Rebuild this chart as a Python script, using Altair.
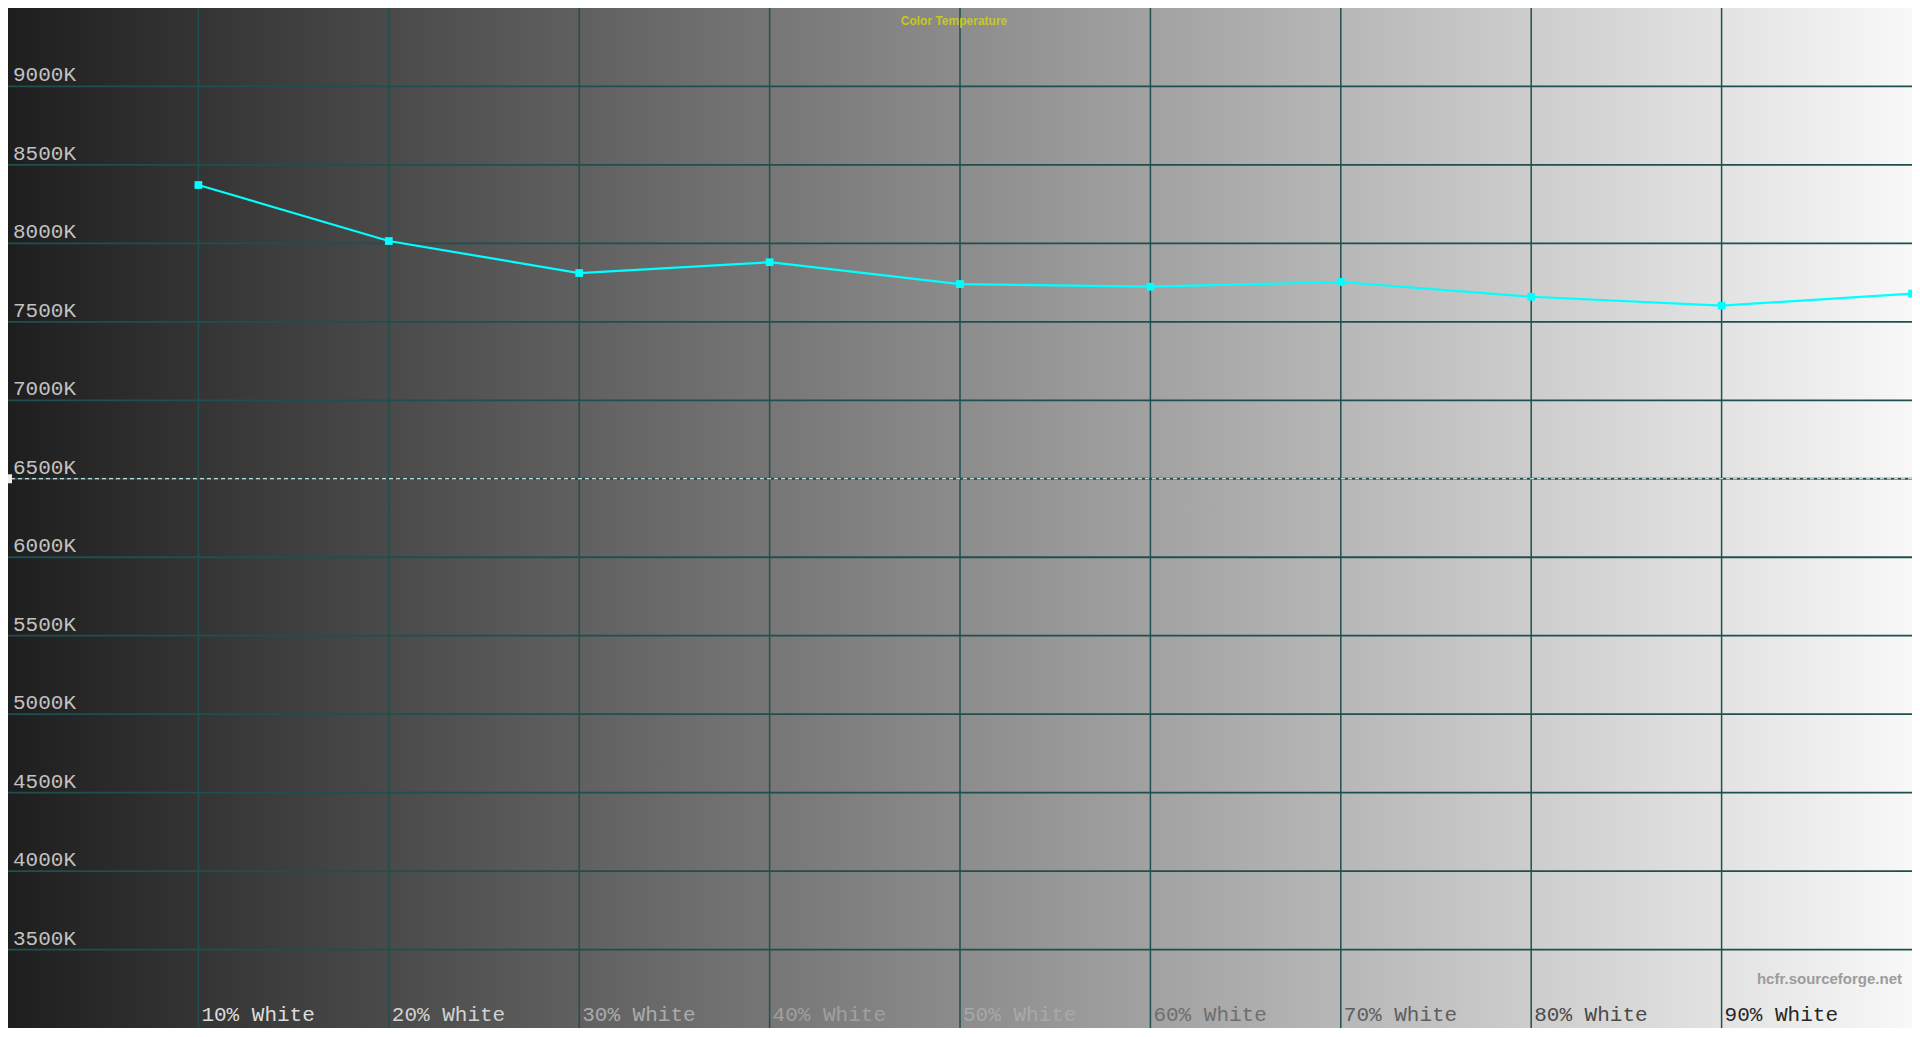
import altair as alt
import pandas as pd

# ---------------- data ----------------
title_text = "Color Temperature"
watermark_text = "hcfr.sourceforge.net"

levels = [1, 2, 3, 4, 5, 6, 7, 8, 9, 10]
level_names = ["10% White", "20% White", "30% White", "40% White", "50% White",
               "60% White", "70% White", "80% White", "90% White", "100% White"]
cct_values = [8372, 8015, 7811, 7880, 7741, 7724, 7754, 7660, 7603, 7680]

x_grid = [1, 2, 3, 4, 5, 6, 7, 8, 9]
y_grid = [3500, 4000, 4500, 5000, 5500, 6000, 6500, 7000, 7500, 8000, 8500, 9000]
ref_cct = [6500]

x_label_pos = [1, 2, 3, 4, 5, 6, 7, 8, 9]
x_label_text = ["10% White", "20% White", "30% White", "40% White", "50% White",
                "60% White", "70% White", "80% White", "90% White"]
x_label_colors = ["#dcdcdc", "#d2d2d2", "#ababab", "#a0a0a0", "#a8a8a8",
                  "#6e6e6e", "#5e5e5e", "#4a4a4a", "#262626"]

y_label_vals = [3500, 4000, 4500, 5000, 5500, 6000, 6500, 7000, 7500, 8000, 8500, 9000]
y_label_text = [f"{v}K" for v in y_label_vals]

x_domain = [0, 10]
y_domain = [3000, 9500]

W, H = 1904, 1020
MONO = "'Courier New', 'Nimbus Mono PS', FreeMono, 'Liberation Mono', monospace"
GRID = "#1f4f4f"

xs = alt.Scale(domain=x_domain, nice=False, zero=False)
ys = alt.Scale(domain=y_domain, nice=False, zero=False)

series = pd.DataFrame({"level": levels, "name": level_names, "cct": cct_values})
bg = pd.DataFrame({"x": x_domain, "y0": [y_domain[0]] * 2, "y1": [y_domain[1]] * 2})
vgrid = pd.DataFrame({"x": x_grid})
hgrid = pd.DataFrame({"y": y_grid})
ref = pd.DataFrame({"x": [x_domain[0]], "y": ref_cct})
xlab = pd.DataFrame({"x": x_label_pos, "y": [y_domain[0]] * len(x_label_pos),
                     "t": x_label_text, "c": x_label_colors})
ylab = pd.DataFrame({"x": [x_domain[0]] * len(y_label_vals), "y": y_label_vals,
                     "t": y_label_text})
ttl = pd.DataFrame({"x": [sum(x_domain) / 2], "y": [y_domain[1]], "t": [title_text]})
wm = pd.DataFrame({"x": [x_domain[1]], "y": [y_domain[0]], "t": [watermark_text]})

gradient = alt.Gradient(
    gradient="linear",
    stops=[
        alt.GradientStop(color="#1e1e1e", offset=0),
        alt.GradientStop(color="#8c8c8c", offset=0.5),
        alt.GradientStop(color="#f8f8f8", offset=1),
    ],
    x1=0, x2=1, y1=1, y2=1,
)

background = alt.Chart(bg).mark_area(color=gradient, opacity=1).encode(
    x=alt.X("x:Q", scale=xs, axis=None),
    y=alt.Y("y0:Q", scale=ys, axis=None), y2="y1:Q",
)

vlines = alt.Chart(vgrid).mark_rule(color=GRID, strokeWidth=1.5).encode(
    x=alt.X("x:Q", scale=xs, axis=None)
)
hlines = alt.Chart(hgrid).mark_rule(color=GRID, strokeWidth=1.8).encode(
    y=alt.Y("y:Q", scale=ys, axis=None)
)
refline = alt.Chart(ref).mark_rule(color="#ffffff", strokeWidth=1.2,
                                   strokeDash=[4, 3]).encode(
    y=alt.Y("y:Q", scale=ys, axis=None)
)
refmark = alt.Chart(ref).mark_tick(orient="vertical", thickness=4, size=9,
                                   color="#eeeeee", xOffset=2, opacity=1).encode(
    x=alt.X("x:Q", scale=xs, axis=None),
    y=alt.Y("y:Q", scale=ys, axis=None),
)

line = alt.Chart(series).mark_line(color="#00ffff", strokeWidth=2.2).encode(
    x=alt.X("level:Q", scale=xs, axis=None),
    y=alt.Y("cct:Q", scale=ys, axis=None),
)
points = alt.Chart(series).mark_square(color="#00ffff", size=60, opacity=1,
                                       clip=True).encode(
    x=alt.X("level:Q", scale=xs, axis=None),
    y=alt.Y("cct:Q", scale=ys, axis=None),
)

ylabels = alt.Chart(ylab).mark_text(
    align="left", baseline="alphabetic", dx=5, dy=-5,
    font=MONO, fontSize=21, color="#c2c2c2",
).encode(
    x=alt.X("x:Q", scale=xs, axis=None),
    y=alt.Y("y:Q", scale=ys, axis=None),
    text="t:N",
)

xlabels = alt.Chart(xlab).mark_text(
    align="left", baseline="alphabetic", dx=3, dy=-7,
    font=MONO, fontSize=21,
).encode(
    x=alt.X("x:Q", scale=xs, axis=None),
    y=alt.Y("y:Q", scale=ys, axis=None),
    text="t:N",
    color=alt.Color("c:N", scale=None, legend=None),
)

title = alt.Chart(ttl).mark_text(
    align="center", baseline="middle", dx=-6, dy=13,
    font="Liberation Sans", fontWeight="bold", fontSize=12, color="#c8c81e",
).encode(
    x=alt.X("x:Q", scale=xs, axis=None),
    y=alt.Y("y:Q", scale=ys, axis=None),
    text="t:N",
)

watermark = alt.Chart(wm).mark_text(
    align="right", baseline="alphabetic", dx=-10, dy=-44,
    font="Liberation Sans", fontWeight="bold", fontSize=15, color="#9c9c9c",
).encode(
    x=alt.X("x:Q", scale=xs, axis=None),
    y=alt.Y("y:Q", scale=ys, axis=None),
    text="t:N",
)

chart = alt.layer(
    background, vlines, hlines, refline, refmark, line, points,
    ylabels, xlabels, title, watermark,
).properties(
    width=W, height=H, padding=0,
    autosize=alt.AutoSizeParams(type="none"),
    background="#ffffff",
).configure_view(stroke=None)

chart.save("out.html", embed_options={"renderer": "svg", "actions": False})
